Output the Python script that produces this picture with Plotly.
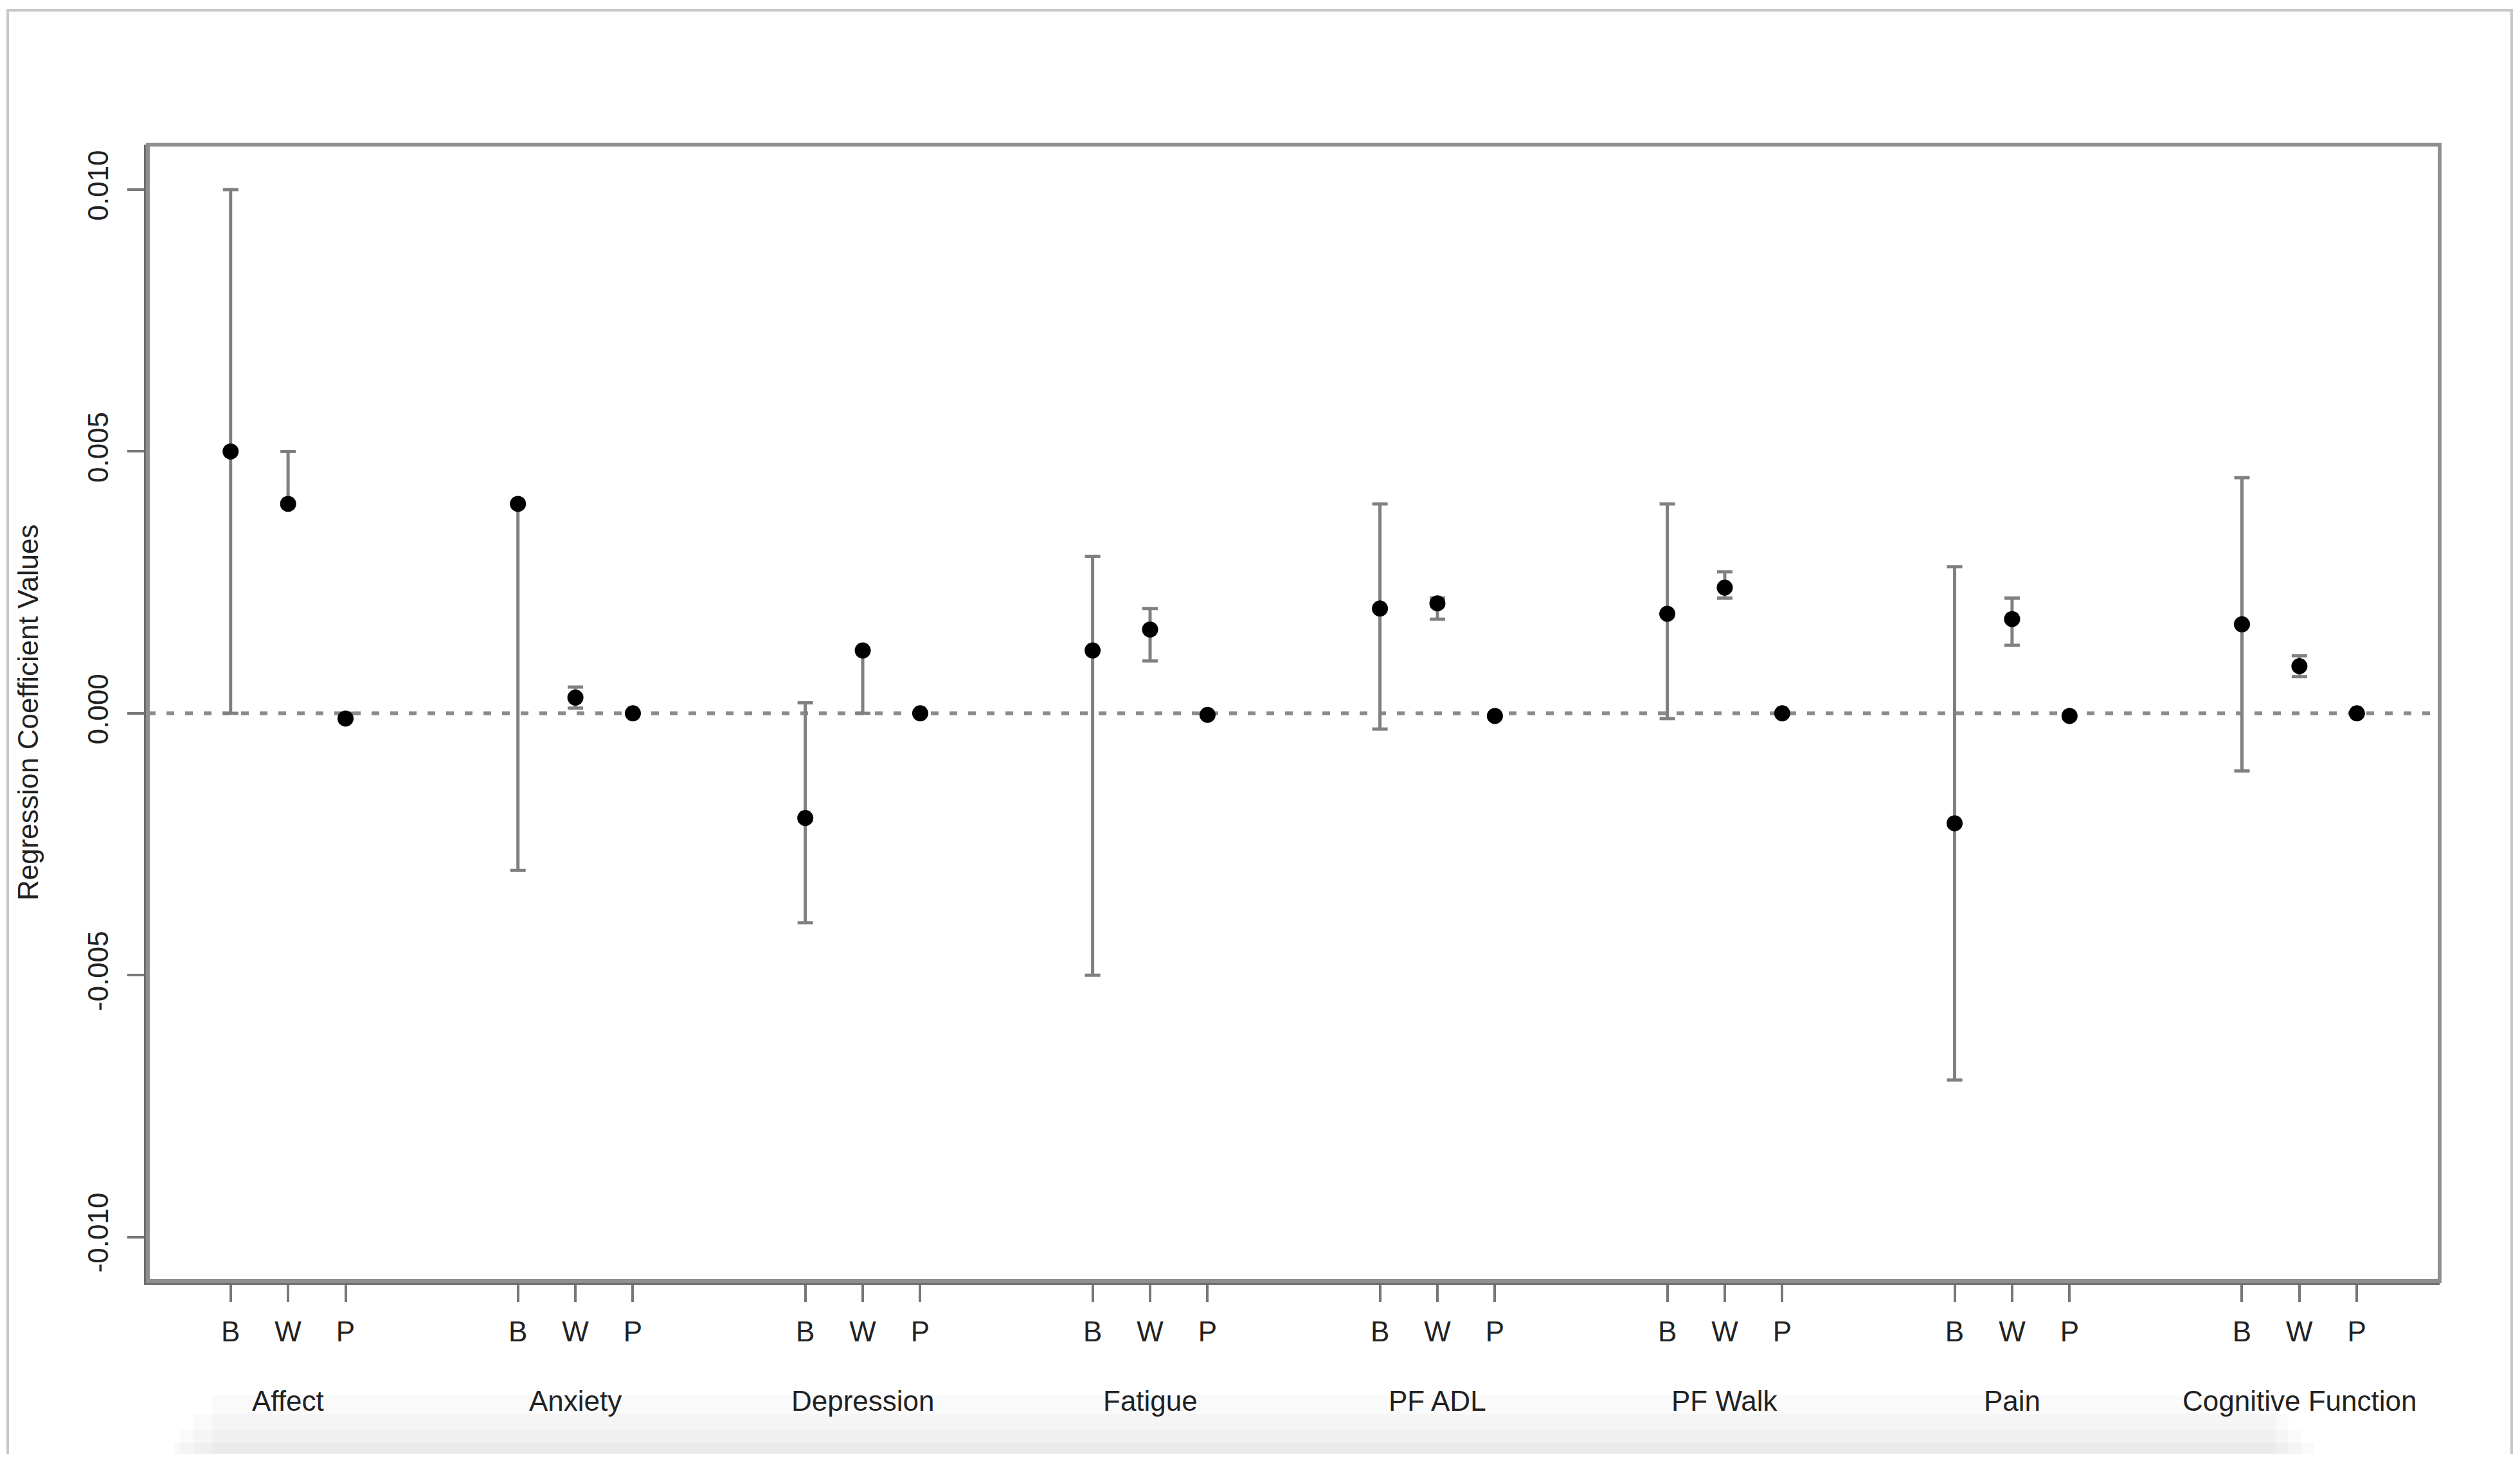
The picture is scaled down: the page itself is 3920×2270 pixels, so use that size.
import plotly.graph_objects as go

# ---------------- data ----------------
categories = ["Affect", "Anxiety", "Depression", "Fatigue", "PF ADL", "PF Walk", "Pain", "Cognitive Function"]
effects = ["B", "W", "P"]

B_est = [0.0050, 0.0040, -0.0020, 0.0012, 0.0020, 0.0019, -0.0021, 0.0017]
B_low = [0.0000, -0.0030, -0.0040, -0.0050, -0.0003, -0.0001, -0.0070, -0.0011]
B_up = [0.0100, 0.0040, 0.0002, 0.0030, 0.0040, 0.0040, 0.0028, 0.0045]

W_est = [0.0040, 0.0003, 0.0012, 0.0016, 0.0021, 0.0024, 0.0018, 0.0009]
W_low = [0.0040, 0.0001, 0.0000, 0.0010, 0.0018, 0.0022, 0.0013, 0.0007]
W_up = [0.0050, 0.0005, 0.0012, 0.0020, 0.0022, 0.0027, 0.0022, 0.0011]

P_est = [-0.0001, 0.0000, 0.0000, -0.00003, -0.00005, 0.0000, -0.00005, 0.0000]
P_low = [-0.0001, 0.0000, 0.0000, -0.00003, -0.00005, 0.0000, -0.00005, 0.0000]
P_up = [0.0000, 0.0000, 0.0000, -0.00003, -0.00005, 0.0000, -0.00005, 0.0000]

y_tickvals = [-0.010, -0.005, 0.000, 0.005, 0.010]
y_ticktext = ["-0.010", "-0.005", "0.000", "0.005", "0.010"]
y_title = "Regression Coefficient Values"

# ---------------- figure ----------------
OFF = 8  # default page body margin
W_PX, H_PX = 3904, 2254
ML, MT = 222, 217
PW, PH = 3565, 1768
MR, MB = W_PX - ML - PW, H_PX - MT - PH
FONT = "Liberation Sans, Arial, Helvetica, sans-serif"
GROUP_STEP = 5

fig = go.Figure()

series = [(B_est, B_low, B_up), (W_est, W_low, W_up), (P_est, P_low, P_up)]
tickvals, ticktext = [], []
for k, (est, low, up) in enumerate(series):
    xs = [i * GROUP_STEP + k + 1 for i in range(len(categories))]
    tickvals += xs
    ticktext += [effects[k]] * len(xs)
    fig.add_trace(go.Scatter(
        x=xs, y=est, mode="markers",
        marker=dict(color="black", size=25, line=dict(width=0)),
        error_y=dict(type="data", symmetric=False,
                     array=[u - e for u, e in zip(up, est)],
                     arrayminus=[e - l for e, l in zip(est, low)],
                     color="#808080", thickness=5, width=12),
        showlegend=False, hoverinfo="skip",
    ))

# zero reference line
fig.add_hline(y=0, line=dict(color="#8a8a8a", width=6, dash="12px,17px"), layer="below")

# plot box
fig.add_shape(type="rect", xref="paper", yref="paper", x0=0, x1=1, y0=0, y1=1,
              line=dict(color="#8f8f8f", width=6), layer="above")

# outer image frame + bottom shadow (page decoration), page pixel coords
def px_x(v):
    return (v - OFF - ML) / PW

def px_y(v):
    return (OFF + MT + PH - v) / PH

fig.add_shape(type="rect", xref="paper", yref="paper",
              x0=px_x(12), x1=px_x(3907), y0=px_y(2300), y1=px_y(16),
              line=dict(color="#c8c8c8", width=4), layer="below")
for y0, x0, x1 in [(2170, 330, 3540), (2200, 300, 3560), (2225, 280, 3580), (2245, 270, 3600)]:
    fig.add_shape(type="rect", xref="paper", yref="paper",
                  x0=px_x(x0), x1=px_x(x1), y0=px_y(2300), y1=px_y(y0),
                  line=dict(width=0), fillcolor="rgba(0,0,0,0.018)", layer="below")

# group labels
for i, c in enumerate(categories):
    fig.add_annotation(x=i * GROUP_STEP + 2, y=0, xref="x", yref="paper",
                       text=c, showarrow=False, yanchor="middle", yshift=-186,
                       font=dict(family=FONT, size=44, color="#222222"))

# y title
fig.add_annotation(x=0, y=0.5, xref="paper", yref="paper", text=y_title,
                   textangle=-90, showarrow=False, xanchor="center", yanchor="middle",
                   xshift=-187, font=dict(family=FONT, size=44, color="#222222"))

fig.update_layout(
    width=W_PX, height=H_PX, autosize=False,
    margin=dict(l=ML, r=MR, t=MT, b=MB),
    paper_bgcolor="white", plot_bgcolor="white",
    font=dict(family=FONT, size=44, color="#222222"),
    xaxis=dict(range=[-0.44, 39.44], tickmode="array", tickvals=tickvals, ticktext=ticktext,
               ticks="outside", ticklen=27, tickwidth=4, tickcolor="#777777",
               showline=True, linecolor="#6e6e6e", linewidth=6,
               showgrid=False, zeroline=False, ticklabelstandoff=8,
               tickfont=dict(family=FONT, size=44, color="#222222")),
    yaxis=dict(range=[-0.01084, 0.01086], tickmode="array", tickvals=y_tickvals, ticktext=y_ticktext,
               ticks="outside", ticklen=26, tickwidth=4, tickcolor="#777777",
               showline=True, linecolor="#6e6e6e", linewidth=6,
               showgrid=False, zeroline=False, tickangle=-90, ticklabelstandoff=12,
               tickfont=dict(family=FONT, size=44, color="#222222")),
)

fig.write_html("out.html")
